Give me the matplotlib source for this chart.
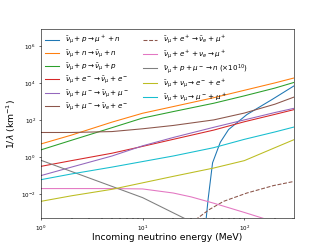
import matplotlib
matplotlib.use('Agg')
import matplotlib.pyplot as plt
import matplotlib.ticker as mticker
import numpy as np

E = [1, 2, 5, 10, 20, 50, 100, 200, 310]

# log10(1/lambda) read at E
orange_log = [0.70, 1.18, 1.88, 2.36, 2.72, 3.20, 3.60, 4.00, 4.27]
green_log = [0.38, 0.90, 1.58, 2.10, 2.45, 2.90, 3.30, 3.72, 4.03]
brown_log = [1.32, 1.32, 1.37, 1.52, 1.70, 2.00, 2.37, 2.85, 3.24]
red_log = [-0.51, -0.20, 0.20, 0.57, 0.95, 1.45, 1.90, 2.30, 2.56]
purple_log = [-1.01, -0.55, 0.05, 0.60, 1.05, 1.60, 2.00, 2.40, 2.63]
cyan_log = [-1.23, -0.92, -0.55, -0.25, 0.05, 0.50, 0.95, 1.35, 1.62]
olive_log = [-2.40, -2.10, -1.75, -1.40, -1.05, -0.60, -0.20, 0.50, 0.94]

E_blue = [41, 44, 48.7, 58, 70, 106, 187, 310]
blue_log = [-4.0, -2.3, -0.32, 0.79, 1.48, 2.29, 3.10, 3.85]

E_dash = [33, 45, 62.5, 106, 193, 310]
dash_log = [-3.4, -2.85, -2.40, -1.95, -1.55, -1.32]

E_pink = [1, 5, 10, 20, 30, 50, 100, 160]
pink_log = [-1.71, -1.71, -1.73, -1.95, -2.16, -2.50, -3.00, -3.35]

E_gray = [1, 10, 30]
gray_log = [-0.18, -2.20, -3.50]

labels = [
    r'$\bar{\nu}_\mu + p \rightarrow \mu^+ + n$',
    r'$\bar{\nu}_\mu + n \rightarrow \bar{\nu}_\mu + n$',
    r'$\bar{\nu}_\mu + p \rightarrow \bar{\nu}_\mu + p$',
    r'$\bar{\nu}_\mu + e^- \rightarrow \bar{\nu}_\mu + e^-$',
    r'$\bar{\nu}_\mu + \mu^- \rightarrow \bar{\nu}_\mu + \mu^-$',
    r'$\bar{\nu}_\mu + \mu^- \rightarrow \bar{\nu}_e + e^-$',
    r'$\bar{\nu}_\mu + e^+ \rightarrow \bar{\nu}_e + \mu^+$',
    r'$\bar{\nu}_\mu + e^+ + \nu_e \rightarrow \mu^+$',
    r'$\bar{\nu}_\mu + p + \mu^- \rightarrow n\ (\times 10^{10})$',
    r'$\bar{\nu}_\mu + \nu_\mu \rightarrow e^- + e^+$',
    r'$\bar{\nu}_\mu + \nu_\mu \rightarrow \mu^- + \mu^+$',
]

def p(v):
    return 10.0 ** np.array(v)

fig = plt.figure(figsize=(6.4, 4.8), dpi=51.1)
ax = fig.add_subplot(111)

ax.plot(E_blue, p(blue_log), color='C0', label=labels[0])
ax.plot(E, p(orange_log), color='C1', label=labels[1])
ax.plot(E, p(green_log), color='C2', label=labels[2])
ax.plot(E, p(red_log), color='C3', label=labels[3])
ax.plot(E, p(purple_log), color='C4', label=labels[4])
ax.plot(E, p(brown_log), color='C5', label=labels[5])
ax.plot(E_dash, p(dash_log), color='C5', ls='--', label=labels[6])
ax.plot(E_pink, p(pink_log), color='C6', label=labels[7])
ax.plot(E_gray, p(gray_log), color='C7', label=labels[8])
ax.plot(E, p(olive_log), color='C8', label=labels[9])
ax.plot(E, p(cyan_log), color='C9', label=labels[10])

ax.set_xscale('log')
ax.set_yscale('log')
ax.set_xlim(1, 310)
ax.set_ylim(5e-4, 8e6)
ax.yaxis.set_minor_locator(mticker.NullLocator())
ax.tick_params(labelsize=8)
ax.set_xlabel('Incoming neutrino energy (MeV)', fontsize=13, labelpad=1)
ax.set_ylabel(r'1/$\lambda$ (km$^{-1}$)', fontsize=13)
ax.legend(loc='upper left', ncol=2, fontsize=10, frameon=False,
          labelspacing=0.2, borderaxespad=0.2)

fig.savefig('out.png', dpi=51.1)
